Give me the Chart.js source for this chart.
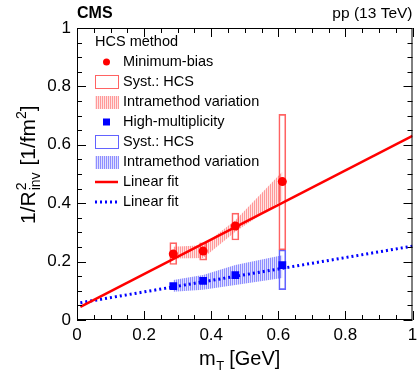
<!DOCTYPE html>
<html lang="en">
<head>
    <meta charset="UTF-8">
    <title>HCS method 1/R2 vs mT</title>
    <style>
        html, body { margin: 0; padding: 0; background: #fff; }
        #chart { display: block; }
    </style>
</head>
<body>
    <canvas id="chart" width="418" height="370"></canvas>

    <script src="https://cdn.jsdelivr.net/npm/chart.js"></script>
    <script>
        // Data
        const mT = [0.287, 0.376, 0.472, 0.612];

        const mbValue = [0.226, 0.236, 0.322, 0.474];
        const mbSystLow = [0.19, 0.205, 0.274, 0.24];
        const mbSystHigh = [0.265, 0.264, 0.366, 0.704];
        const mbVarLow = [0.211, 0.212, 0.302, 0.41];
        const mbVarHigh = [0.251, 0.256, 0.342, 0.508];

        const hmValue = [0.116, 0.134, 0.154, 0.188];
        const hmSystLow = [null, null, null, 0.104];
        const hmSystHigh = [null, null, null, 0.24];
        const hmVarLow = [0.097, 0.104, 0.12, 0.144];
        const hmVarHigh = [0.137, 0.154, 0.188, 0.222];

        const fitX = [0.01, 1.0];
        const mbFit = [0.045, 0.631];
        const hmFit = [0.059, 0.253];

        const axisTicks = [0, 0.2, 0.4, 0.6, 0.8, 1];

        const FONT = '"Liberation Sans", Arial, Helvetica, sans-serif';

        // vertical hatch pattern (2px period)
        function hatch(line, gap) {
            const c = document.createElement('canvas');
            c.width = 2; c.height = 2;
            const g = c.getContext('2d');
            g.fillStyle = line;
            g.fillRect(0, 0, 1, 2);
            g.fillStyle = gap;
            g.fillRect(1, 0, 1, 2);
            return g.createPattern(c, 'repeat');
        }
        const redHatch = hatch('rgba(255,70,70,0.55)', 'rgba(255,70,70,0.15)');
        const blueHatch = hatch('rgba(50,50,255,0.55)', 'rgba(50,50,255,0.15)');

        const pts = (xs, ys) => xs.map((x, i) => ({ x: x, y: ys[i] }));
        const boxes = (lo, hi) => mT
            .map((x, i) => ({ x: x, y: [lo[i], hi[i]] }))
            .filter(p => p.y[0] !== null);

        const isMajor = v => axisTicks.some(t => Math.abs(t - v) < 1e-6);

        // ROOT-like frame with ticks on all four sides, plus texts and legend
        const decor = {
            id: 'decor',
            afterDraw(chart) {
                const ctx = chart.ctx;
                const a = chart.chartArea;
                const xs = chart.scales.x, ys = chart.scales.y;
                ctx.save();
                ctx.strokeStyle = '#000';
                ctx.lineWidth = 1;
                ctx.strokeRect(a.left + 0.5, a.top + 0.5, a.right - a.left - 1, a.bottom - a.top - 1);

                ctx.beginPath();
                xs.ticks.forEach(t => {
                    const px = Math.round(xs.getPixelForValue(t.value)) + 0.5;
                    const len = isMajor(t.value) ? 9 : 5;
                    ctx.moveTo(px, a.bottom); ctx.lineTo(px, a.bottom - len);
                    ctx.moveTo(px, a.top); ctx.lineTo(px, a.top + len);
                });
                ys.ticks.forEach(t => {
                    const py = Math.round(ys.getPixelForValue(t.value)) + 0.5;
                    const len = isMajor(t.value) ? 9 : 5;
                    ctx.moveTo(a.left, py); ctx.lineTo(a.left + len, py);
                    ctx.moveTo(a.right, py); ctx.lineTo(a.right - len, py);
                });
                ctx.stroke();

                // header texts
                ctx.fillStyle = '#000';
                ctx.textBaseline = 'alphabetic';
                ctx.textAlign = 'left';
                ctx.font = 'bold 16px ' + FONT;
                ctx.fillText('CMS', a.left, 18);
                ctx.textAlign = 'right';
                ctx.font = '15.5px ' + FONT;
                ctx.fillText('pp (13 TeV)', a.right, 18);

                // x title: m_T [GeV]
                ctx.textAlign = 'left';
                let x = 199;
                ctx.font = '20px ' + FONT;
                ctx.fillText('m', x, 365);
                x += ctx.measureText('m').width;
                ctx.font = '13px ' + FONT;
                ctx.fillText('T', x + 0.5, 370);
                x += ctx.measureText('T').width;
                ctx.font = '20px ' + FONT;
                ctx.fillText(' [GeV]', x, 365);

                // y title: 1/R^2_inv [1/fm^2]
                ctx.save();
                ctx.translate(35, 224);
                ctx.rotate(-Math.PI / 2);
                let y = 0;
                ctx.font = '21px ' + FONT;
                ctx.fillText('1/R', y, 0);
                y += ctx.measureText('1/R').width;
                ctx.font = '14px ' + FONT;
                ctx.fillText('2', y + 1, -9);
                ctx.fillText('inv', y + 1, 5);
                y += ctx.measureText('inv').width + 2;
                ctx.font = '21px ' + FONT;
                ctx.fillText(' [1/fm', y, 0);
                y += ctx.measureText(' [1/fm').width;
                ctx.font = '14px ' + FONT;
                ctx.fillText('2', y, -9);
                y += ctx.measureText('2').width;
                ctx.font = '21px ' + FONT;
                ctx.fillText(']', y, 0);
                ctx.restore();

                // legend
                const lx = 95, tx = 123, iw = 23;
                ctx.textAlign = 'left';
                ctx.textBaseline = 'middle';
                ctx.font = '14.5px ' + FONT;
                ctx.fillText('HCS method', lx, 42);
                const rows = [
                    ['Minimum-bias', 'circle'],
                    ['Syst.: HCS', 'boxR'],
                    ['Intramethod variation', 'hatchR'],
                    ['High-multiplicity', 'square'],
                    ['Syst.: HCS', 'boxB'],
                    ['Intramethod variation', 'hatchB'],
                    ['Linear fit', 'lineR'],
                    ['Linear fit', 'lineB']
                ];
                rows.forEach((r, i) => {
                    const cy = 62 + i * 20;
                    const cx = lx + iw / 2;
                    ctx.save();
                    switch (r[1]) {
                        case 'circle':
                            ctx.fillStyle = '#ff0000';
                            ctx.beginPath(); ctx.arc(cx, cy, 3.5, 0, Math.PI * 2); ctx.fill();
                            break;
                        case 'square':
                            ctx.fillStyle = '#0000ff';
                            ctx.fillRect(cx - 3.5, cy - 3.5, 7, 7);
                            break;
                        case 'boxR':
                        case 'boxB':
                            ctx.strokeStyle = r[1] === 'boxR' ? 'rgba(255,60,60,0.8)' : 'rgba(60,60,255,0.8)';
                            ctx.strokeRect(lx + 0.5, cy - 6.5, iw, 13);
                            break;
                        case 'hatchR':
                        case 'hatchB':
                            ctx.fillStyle = r[1] === 'hatchR' ? redHatch : blueHatch;
                            ctx.fillRect(lx, cy - 6, iw + 1, 13);
                            break;
                        case 'lineR':
                            ctx.strokeStyle = '#ff0000'; ctx.lineWidth = 2.5;
                            ctx.beginPath(); ctx.moveTo(lx, cy); ctx.lineTo(lx + iw, cy); ctx.stroke();
                            break;
                        case 'lineB':
                            ctx.strokeStyle = '#0000ff'; ctx.lineWidth = 3;
                            ctx.setLineDash([2, 3]);
                            ctx.beginPath(); ctx.moveTo(lx, cy); ctx.lineTo(lx + iw, cy); ctx.stroke();
                            break;
                    }
                    ctx.restore();
                    ctx.fillStyle = '#000';
                    ctx.fillText(r[0], tx, cy);
                });
                ctx.restore();
            }
        };

        const band = (data, fill, pattern) => ({
            type: 'line', data: data, fill: fill, backgroundColor: pattern,
            borderWidth: 0, borderColor: 'rgba(0,0,0,0)', pointRadius: 0, tension: 0
        });

        const tickFont = { family: FONT, size: 17 };
        const tickLabel = v => isMajor(v) ? String(Math.round(v * 10) / 10) : '';

        new Chart(document.getElementById('chart'), {
            type: 'scatter',
            data: {
                datasets: [
                    { type: 'scatter', data: pts(mT, mbValue), backgroundColor: '#ff0000', borderWidth: 0, pointStyle: 'circle', pointRadius: 4.5 },
                    { type: 'scatter', data: pts(mT, hmValue), backgroundColor: '#0000ff', borderWidth: 0, pointStyle: 'rect', pointRadius: 5.5 },
                    { type: 'line', data: pts(fitX, mbFit), borderColor: '#ff0000', borderWidth: 2.5, pointRadius: 0, fill: false },
                    { type: 'line', data: pts(fitX, hmFit), borderColor: '#0000ff', borderWidth: 3, borderDash: [2, 3], pointRadius: 0, fill: false },
                    { type: 'bar', data: boxes(mbSystLow, mbSystHigh), backgroundColor: 'rgba(0,0,0,0)', borderColor: 'rgba(255,60,60,0.8)', borderWidth: 1, borderSkipped: false, barThickness: 7, grouped: false },
                    { type: 'bar', data: boxes(hmSystLow, hmSystHigh), backgroundColor: 'rgba(0,0,0,0)', borderColor: 'rgba(60,60,255,0.8)', borderWidth: 1, borderSkipped: false, barThickness: 7, grouped: false },
                    band(pts(mT, mbVarHigh), '+1', redHatch),
                    band(pts(mT, mbVarLow), false, redHatch),
                    band(pts(mT, hmVarHigh), '+1', blueHatch),
                    band(pts(mT, hmVarLow), false, blueHatch)
                ]
            },
            options: {
                responsive: false,
                animation: false,
                layout: { padding: { top: 28, right: 5, left: 0, bottom: 0 } },
                plugins: { legend: { display: false }, tooltip: { enabled: false } },
                scales: {
                    x: {
                        type: 'linear', min: 0, max: 1, offset: false,
                        grid: { display: false, drawTicks: false },
                        border: { display: false },
                        afterFit(s) { s.height = 50; s.paddingLeft = 0; s.paddingRight = 0; },
                        ticks: {
                            stepSize: 0.05, autoSkip: false, maxRotation: 0, padding: 5,
                            color: '#000', font: tickFont, callback: tickLabel
                        }
                    },
                    y: {
                        type: 'linear', min: 0, max: 1,
                        grid: { display: false, drawTicks: false },
                        border: { display: false },
                        afterFit(s) { s.width = 77; s.paddingTop = 0; s.paddingBottom = 0; },
                        ticks: {
                            stepSize: 0.05, autoSkip: false, padding: 6,
                            color: '#000', font: tickFont, callback: tickLabel
                        }
                    }
                }
            },
            plugins: [decor]
        });
    </script>
</body>
</html>
